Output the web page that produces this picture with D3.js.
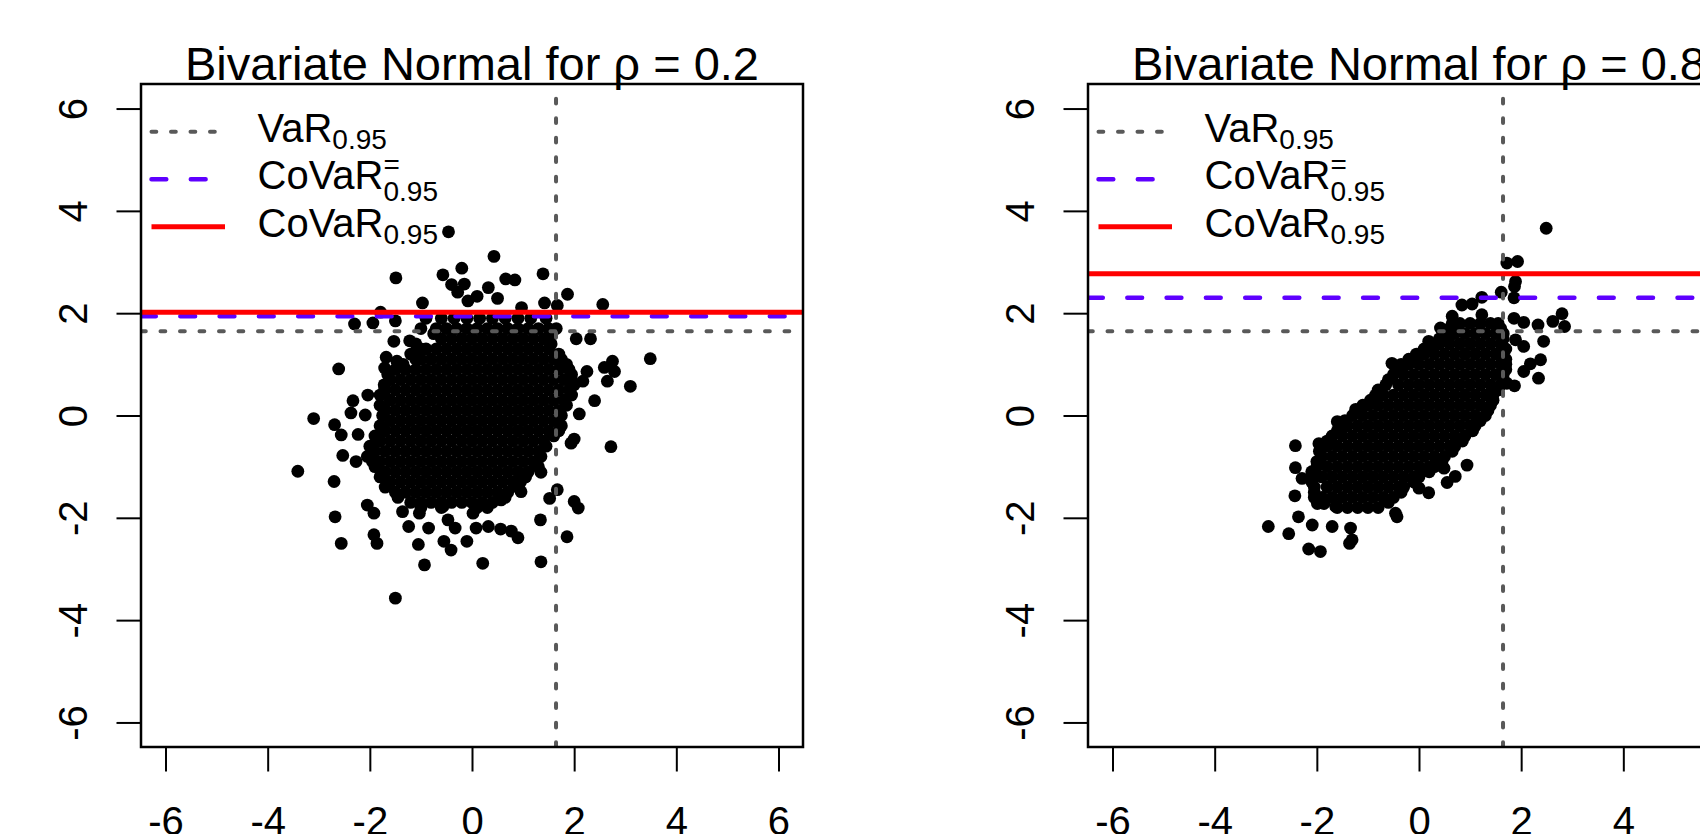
<!DOCTYPE html>
<html><head><meta charset="utf-8">
<script src="https://cdn.jsdelivr.net/npm/d3@7"></script>
<style>
body{margin:0;background:#fff}
svg{display:block}
text{font-family:"Liberation Sans",Arial,Helvetica,sans-serif;fill:#000}
</style>
</head><body>
<svg id="chart" width="1700" height="834"></svg>
<script>
// ---------------- data ----------------
const axisTicks = [-6, -4, -2, 0, 2, 4, 6];
const rhoLabels = ["0.2", "0.8"];
const varLevels = [1.645, 1.645];
const covarEqLevels = [1.94, 2.30];
const covarLevels = [2.02, 2.77];
const legendNames = ["VaR", "CoVaR", "CoVaR"];
const legendSup = ["", "=", ""];
const legendSub = ["0.95", "0.95", "0.95"];

// rho = 0.2 : isolated points [x, y]
const outliersA = [
[-0.46,3.59],[0.43,3.11],[-1.49,2.69],[-0.20,2.88],[-0.57,2.75],[0.66,2.67],[0.84,2.65],[1.39,2.77],[1.87,2.37],
[-0.15,2.57],[-0.40,2.56],[-0.28,2.41],[0.32,2.50],[0.50,2.29],[-0.08,2.24],[0.10,2.33],[-0.97,2.20],[2.56,2.17],
[0.97,2.11],[1.42,2.20],[1.67,2.15],[-1.79,2.02],[-2.30,1.79],[-1.94,1.81],[-1.50,1.85],[2.04,1.50],[2.32,1.50],
[3.49,1.11],[-2.61,0.91],[2.75,1.06],[2.59,0.94],[2.79,0.86],[2.25,0.86],[2.17,0.67],[2.65,0.67],[3.10,0.57],
[2.40,0.29],[2.10,0.03],[-3.10,-0.06],[2.72,-0.61],[-3.41,-1.09],[-2.70,-1.29],[-2.68,-1.98],[-2.56,-2.50],
[-1.86,-2.50],[-1.92,-2.33],[-1.50,-3.57],[-0.93,-2.92],[0.21,-2.89],[1.35,-2.86],[1.86,-2.37],[1.34,-2.04],
[1.67,-1.45],[1.52,-1.62],[2.00,-1.68],[2.08,-1.81],[0.90,-2.39],[-0.10,-2.46],[-0.41,-2.63],[-0.55,-2.46],
[-1.05,-2.52],[-0.85,-2.20],[-1.24,-2.17],[-0.47,-2.04],[-0.33,-2.20],[0.08,-2.20],[0.32,-2.17],[0.56,-2.22],
[0.77,-2.26],[-2.05,-1.75],[-1.92,-1.91],[-1.36,-1.88],[-1.03,-1.91],[-0.57,-1.78],[0.02,-1.91],[0.57,-1.65],
[0.96,-1.49],[1.35,-1.11],[1.94,-0.54],[2.00,-0.46],[-2.53,-0.78],[-2.23,-0.37],[-2.56,-0.38],[-2.69,-0.18],
[-2.37,0.05],[-2.33,0.29],[-2.04,0.40],[-2.09,0.01],[-1.71,0.54],[-1.71,0.93],[-1.68,1.14],[-1.47,1.06],
[-1.53,1.45],[-1.22,1.46],[-2.27,-0.90]
];
// rho = 0.2 : dense core, rows of [y, [x ...]]
const coreRowsA = [
[1.9,[-0.9,-0.6,-0.35,-0.1,0.15,0.4,0.65,0.9,1.15,1.45]],
[1.7,[-1.0,-0.7,-0.5,-0.3,-0.1,0.1,0.3,0.5,0.7,0.9,1.1,1.3,1.5,1.65]],
[1.6,[-0.75,1.55]],
[1.5,[-0.6,-0.4,-0.2,0,0.2,0.4,0.6,0.8,1.0,1.2,1.4]],
[1.4,[-1.1,1.55]],
[1.3,[-1.0,-0.9,-0.7,-0.5,-0.3,-0.1,0.1,0.3,0.5,0.7,0.9,1.1,1.3,1.5]],
[1.2,[-1.2,1.7]],
[1.1,[-1.1,-1.0,-0.8,-0.6,-0.4,-0.2,0,0.2,0.4,0.6,0.8,1.0,1.2,1.4,1.6,1.75]],
[1.0,[-1.35,1.85]],
[0.9,[-1.5,-1.3,-1.1,-0.9,-0.7,-0.5,-0.3,-0.1,0.1,0.3,0.5,0.7,0.9,1.1,1.3,1.5,1.7,1.9]],
[0.8,[-1.65,1.95]],
[0.7,[-1.6,-1.4,-1.2,-1.0,-0.8,-0.6,-0.4,-0.2,0,0.2,0.4,0.6,0.8,1.0,1.2,1.4,1.6,1.8,1.95]],
[0.6,[-1.72,2.0]],
[0.5,[-1.7,-1.5,-1.3,-1.1,-0.9,-0.7,-0.5,-0.3,-0.1,0.1,0.3,0.5,0.7,0.9,1.1,1.3,1.5,1.7,1.9]],
[0.4,[-1.8,1.95]],
[0.3,[-1.6,-1.4,-1.2,-1.0,-0.8,-0.6,-0.4,-0.2,0,0.2,0.4,0.6,0.8,1.0,1.2,1.4,1.6,1.8]],
[0.2,[-1.8,1.85]],
[0.1,[-1.7,-1.5,-1.3,-1.1,-0.9,-0.7,-0.5,-0.3,-0.1,0.1,0.3,0.5,0.7,0.9,1.1,1.3,1.5,1.7]],
[0.0,[-1.75,1.75]],
[-0.1,[-1.6,-1.4,-1.2,-1.0,-0.8,-0.6,-0.4,-0.2,0,0.2,0.4,0.6,0.8,1.0,1.2,1.4,1.6]],
[-0.2,[-1.8,1.75]],
[-0.3,[-1.7,-1.5,-1.3,-1.1,-0.9,-0.7,-0.5,-0.3,-0.1,0.1,0.3,0.5,0.7,0.9,1.1,1.3,1.5,1.7]],
[-0.4,[-1.9,1.6]],
[-0.5,[-1.8,-1.6,-1.4,-1.2,-1.0,-0.8,-0.6,-0.4,-0.2,0,0.2,0.4,0.6,0.8,1.0,1.2,1.4]],
[-0.6,[-2.0,1.45]],
[-0.7,[-1.9,-1.7,-1.5,-1.3,-1.1,-0.9,-0.7,-0.5,-0.3,-0.1,0.1,0.3,0.5,0.7,0.9,1.1,1.3]],
[-0.8,[-2.05,1.35]],
[-0.9,[-1.95,-1.8,-1.6,-1.4,-1.2,-1.0,-0.8,-0.6,-0.4,-0.2,0,0.2,0.4,0.6,0.8,1.0,1.2]],
[-1.0,[-1.9,1.3]],
[-1.1,[-1.7,-1.5,-1.3,-1.1,-0.9,-0.7,-0.5,-0.3,-0.1,0.1,0.3,0.5,0.7,0.9,1.1]],
[-1.2,[-1.8,1.05]],
[-1.3,[-1.6,-1.4,-1.2,-1.0,-0.8,-0.6,-0.4,-0.2,0,0.2,0.4,0.6,0.8,0.95]],
[-1.4,[-1.7,0.9]],
[-1.5,[-1.5,-1.3,-1.1,-0.9,-0.7,-0.5,-0.3,-0.1,0.1,0.3,0.5,0.7]],
[-1.6,[-1.45,0.65]],
[-1.7,[-1.2,-1.0,-0.8,-0.6,-0.4,-0.2,0,0.2,0.4]],
[-1.8,[-1.0,-0.6,0.1,0.3]]
];

// rho = 0.8 : isolated points [x, y]
const outliersB = [
[2.49,3.66],[1.93,3.01],[1.72,2.98],[1.89,2.62],[1.87,2.52],[1.61,2.41],[1.86,2.30],[1.23,2.31],[1.04,2.18],
[0.84,2.16],[2.80,1.99],[2.62,1.84],[2.85,1.74],[2.33,1.77],[2.05,1.82],[1.86,1.90],[2.44,1.45],[2.05,1.35],
[2.38,1.09],[2.18,1.01],[2.05,0.86],[2.34,0.73],[1.87,0.58],[1.72,0.63],[-2.42,-0.59],[-2.42,-1.02],[-2.43,-1.57],
[-2.95,-2.17],[-2.55,-2.31],[-2.16,-2.61],[-1.93,-2.66],[-1.36,-2.50],[-1.31,-2.43],[-0.43,-1.98],[-0.46,-1.91],
[0.19,-1.51],[0.00,-1.42],[0.55,-1.31],[0.71,-1.19],[0.94,-0.97],[0.49,-1.03],[-0.36,-1.42],[-2.29,-1.23],
[-2.36,-1.98],[-2.09,-2.14],[-1.70,-2.17],[-1.34,-2.20],[-1.96,-0.55],[-1.60,-0.12],[-1.24,0.12],[-0.53,1.02],
[0.19,1.45],[0.42,1.71],[0.65,1.94],[1.23,1.97],[1.89,1.48],[-1.99,-1.72],[-1.86,-1.72],[-1.63,-1.78]
];
// rho = 0.8 : dense core, rows of [y, [x ...]]
const coreRowsB = [
[1.8,[0.65,0.8,1.0,1.2,1.4,1.55]],
[1.7,[0.6,1.6]],
[1.6,[0.55,0.7,0.9,1.1,1.3,1.5,1.65]],
[1.5,[0.4,1.65]],
[1.4,[0.25,0.4,0.6,0.8,1.0,1.2,1.4,1.6]],
[1.3,[0.1,1.7]],
[1.2,[-0.05,0.1,0.3,0.5,0.7,0.9,1.1,1.3,1.5,1.65]],
[1.1,[-0.2,1.7]],
[1.0,[-0.35,-0.2,0,0.2,0.4,0.6,0.8,1.0,1.2,1.4,1.6,1.7]],
[0.9,[-0.45,1.7]],
[0.8,[-0.5,-0.3,-0.1,0.1,0.3,0.5,0.7,0.9,1.1,1.3,1.5,1.65]],
[0.7,[-0.6,1.65]],
[0.6,[-0.65,-0.4,-0.2,0,0.2,0.4,0.6,0.8,1.0,1.2,1.4,1.6]],
[0.5,[-0.8,1.55]],
[0.4,[-0.85,-0.7,-0.5,-0.3,-0.1,0.1,0.3,0.5,0.7,0.9,1.1,1.3,1.45]],
[0.3,[-0.95,1.45]],
[0.2,[-1.1,-1.0,-0.8,-0.6,-0.4,-0.2,0,0.2,0.4,0.6,0.8,1.0,1.2,1.4]],
[0.1,[-1.2,1.35]],
[0.0,[-1.3,-1.1,-0.9,-0.7,-0.5,-0.3,-0.1,0.1,0.3,0.5,0.7,0.9,1.1,1.3]],
[-0.1,[-1.45,1.2]],
[-0.2,[-1.55,-1.4,-1.2,-1.0,-0.8,-0.6,-0.4,-0.2,0,0.2,0.4,0.6,0.8,1.0,1.1]],
[-0.3,[-1.6,1.05]],
[-0.4,[-1.7,-1.5,-1.3,-1.1,-0.9,-0.7,-0.5,-0.3,-0.1,0.1,0.3,0.5,0.7,0.9]],
[-0.5,[-1.8,0.85]],
[-0.6,[-1.9,-1.8,-1.6,-1.4,-1.2,-1.0,-0.8,-0.6,-0.4,-0.2,0,0.2,0.4,0.6,0.7]],
[-0.7,[-1.95,0.65]],
[-0.8,[-1.9,-1.7,-1.5,-1.3,-1.1,-0.9,-0.7,-0.5,-0.3,-0.1,0.1,0.3,0.5]],
[-0.9,[-2.0,0.45]],
[-1.0,[-2.0,-1.8,-1.6,-1.4,-1.2,-1.0,-0.8,-0.6,-0.4,-0.2,0,0.2,0.3]],
[-1.1,[-2.1,0.2]],
[-1.2,[-2.1,-1.9,-1.7,-1.5,-1.3,-1.1,-0.9,-0.7,-0.5,-0.3,-0.1,0.0]],
[-1.3,[-2.1,-0.1]],
[-1.4,[-2.05,-1.8,-1.6,-1.4,-1.2,-1.0,-0.8,-0.6,-0.4,-0.3]],
[-1.5,[-2.05,-0.35]],
[-1.6,[-2.05,-1.9,-1.7,-1.5,-1.3,-1.1,-0.9,-0.7,-0.5]],
[-1.7,[-1.9,-0.6]],
[-1.8,[-1.6,-1.4,-1.2,-1.0,-0.8]]
];

// ---------------- drawing ----------------
const svg = d3.select("#chart");
svg.append("rect").attr("width", 1700).attr("height", 834).attr("fill", "#fff");

const panels = [
  {left: 141, outliers: outliersA, rows: coreRowsA, rho: rhoLabels[0], v: varLevels[0], ceq: covarEqLevels[0], c: covarLevels[0]},
  {left: 1088, outliers: outliersB, rows: coreRowsB, rho: rhoLabels[1], v: varLevels[1], ceq: covarEqLevels[1], c: covarLevels[1]}
];
const W = 662, TOP = 84, BOT = 747;
const GRAY = "#595959", PURPLE = "#5e00ff", RED = "#ff0000";
const fmt = d => String(d);

panels.forEach((p, i) => {
  const x = d3.scaleLinear().domain([-6.48, 6.48]).range([p.left, p.left + W]);
  const y = d3.scaleLinear().domain([-6.48, 6.48]).range([BOT, TOP]);
  const g = svg.append("g");

  const clipId = "clip" + i;
  svg.append("clipPath").attr("id", clipId)
    .append("rect").attr("x", p.left).attr("y", TOP).attr("width", W).attr("height", BOT - TOP);

  // points
  const pts = p.outliers.map(d => ({x: d[0], y: d[1]}));
  p.rows.forEach(r => r[1].forEach(xv => pts.push({x: xv, y: r[0]})));
  g.append("g").selectAll("circle").data(pts).join("circle")
    .attr("cx", d => x(d.x)).attr("cy", d => y(d.y)).attr("r", 6.4).attr("fill", "#000");

  // reference lines
  const lines = g.append("g").attr("clip-path", `url(#${clipId})`);
  lines.append("line").attr("x1", x(p.v)).attr("x2", x(p.v)).attr("y1", BOT).attr("y2", TOP)
    .attr("stroke", GRAY).attr("stroke-width", 4).attr("stroke-dasharray", "4.8,14.7").attr("stroke-linecap", "round");
  lines.append("line").attr("x1", p.left).attr("x2", p.left + W).attr("y1", y(p.v)).attr("y2", y(p.v))
    .attr("stroke", GRAY).attr("stroke-width", 4).attr("stroke-dasharray", "4.8,14.7").attr("stroke-linecap", "round");
  lines.append("line").attr("x1", p.left).attr("x2", p.left + W).attr("y1", y(p.ceq)).attr("y2", y(p.ceq))
    .attr("stroke", PURPLE).attr("stroke-width", 4.5).attr("stroke-dasharray", "14.8,24.5").attr("stroke-linecap", "round");
  lines.append("line").attr("x1", p.left).attr("x2", p.left + W).attr("y1", y(p.c)).attr("y2", y(p.c))
    .attr("stroke", RED).attr("stroke-width", 5);

  // box
  g.append("rect").attr("x", p.left).attr("y", TOP).attr("width", W).attr("height", BOT - TOP)
    .attr("fill", "none").attr("stroke", "#000").attr("stroke-width", 2.5);

  // x axis
  const xa = g.append("g").attr("transform", `translate(0,${BOT})`)
    .call(d3.axisBottom(x).tickValues(axisTicks).tickSize(24.5).tickSizeOuter(0).tickPadding(35).tickFormat(fmt));
  xa.select(".domain").remove();
  xa.selectAll(".tick line").attr("stroke", "#000").attr("stroke-width", 2);
  xa.selectAll(".tick text").attr("font-size", 40).attr("font-family", null).attr("fill", "#000");

  // y axis
  const ya = g.append("g").attr("transform", `translate(${p.left},0)`)
    .call(d3.axisLeft(y).tickValues(axisTicks).tickSize(24.5).tickSizeOuter(0).tickFormat(fmt));
  ya.select(".domain").remove();
  ya.selectAll(".tick line").attr("stroke", "#000").attr("stroke-width", 2);
  ya.selectAll(".tick text").attr("font-size", 40).attr("font-family", null).attr("fill", "#000")
    .attr("x", 0).attr("y", 0).attr("dy", null).attr("text-anchor", "middle")
    .attr("transform", "translate(-54.3,0) rotate(-90)");

  // title
  g.append("text").attr("x", p.left + W / 2).attr("y", 79.5).attr("text-anchor", "middle")
    .attr("font-size", 47).text(`Bivariate Normal for ρ = ${p.rho}`);

  // legend
  const lg = g.append("g");
  const lineY = [131.7, 179.2, 226.7];
  const styles = [
    {c: GRAY, w: 4, d: "4.8,14.7", cap: "round"},
    {c: PURPLE, w: 4.5, d: "14.8,24.5", cap: "round"},
    {c: RED, w: 5, d: null, cap: "butt"}
  ];
  lineY.forEach((ly, k) => {
    const s = styles[k];
    lg.append("line").attr("x1", p.left + 10.5).attr("x2", p.left + (k === 2 ? 84 : 81.5)).attr("y1", ly).attr("y2", ly)
      .attr("stroke", s.c).attr("stroke-width", s.w).attr("stroke-dasharray", s.d).attr("stroke-linecap", s.cap);
    const tx = p.left + 116.5, base = ly + 9.8;
    const t = lg.append("text").attr("x", tx).attr("y", base).attr("font-size", 40);
    const main = t.append("tspan").text(legendNames[k]);
    const wdt = main.node().getComputedTextLength();
    const hasSup = legendSup[k] !== "";
    if (hasSup) {
      t.append("tspan").attr("x", tx + wdt).attr("y", base - 15).attr("font-size", 28).text(legendSup[k]);
    }
    t.append("tspan").attr("x", tx + wdt).attr("y", base + (hasSup ? 12 : 7.2)).attr("font-size", 28).text(legendSub[k]);
  });
});
</script>
</body></html>
